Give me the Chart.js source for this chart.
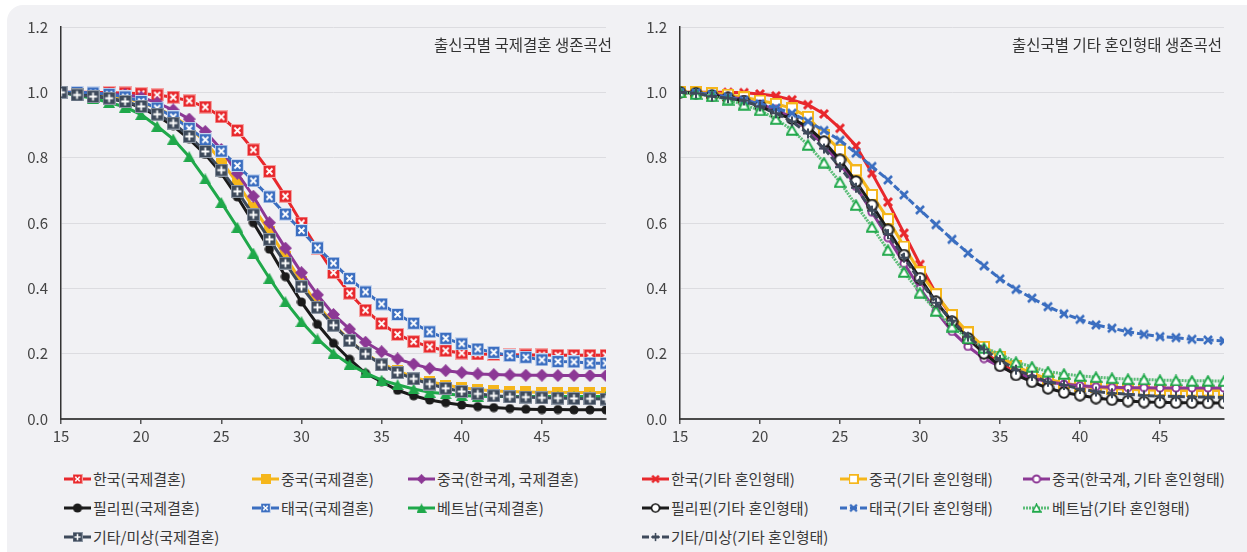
<!DOCTYPE html>
<html><head><meta charset="utf-8">
<script src="https://cdn.jsdelivr.net/npm/chart.js@4/dist/chart.umd.min.js"></script>
<style>
html,body{margin:0;padding:0;background:#fff;width:1247px;height:552px;overflow:hidden;font-family:"Noto Sans CJK KR","Noto Sans",sans-serif;}
#panel{position:absolute;left:7px;top:5px;width:1262px;height:570px;background:#f1f1f4;border-radius:16px;}
.cw{position:absolute;top:0;height:460px;}
#w1{left:0;width:620px;} #w2{left:620px;width:627px;}
.leg{position:absolute;display:flex;align-items:center;font-size:15px;color:#383838;white-space:nowrap;height:22px;line-height:22px;}
.leg canvas{margin-right:2px;}
</style></head>
<body>
<div id="panel"></div>
<div class="cw" id="w1"><canvas id="c1" width="620" height="460"></canvas></div>
<div class="cw" id="w2"><canvas id="c2" width="627" height="460"></canvas></div>
<div id="legend"></div>
<script>
// ---------------- data ----------------
const AGES = [15,16,17,18,19,20,21,22,23,24,25,26,27,28,29,30,31,32,33,34,35,36,37,38,39,40,41,42,43,44,45,46,47,48,49];
const X_TICKS = [15,20,25,30,35,40,45];
const Y_TICKS = [0.0,0.2,0.4,0.6,0.8,1.0,1.2];

const TITLE_LEFT = "출신국별 국제결혼 생존곡선";
const TITLE_RIGHT = "출신국별 기타 혼인형태 생존곡선";

const LABELS_LEFT = ["한국(국제결혼)","중국(국제결혼)","중국(한국계, 국제결혼)","필리핀(국제결혼)","태국(국제결혼)","베트남(국제결혼)","기타/미상(국제결혼)"];
const LABELS_RIGHT = ["한국(기타 혼인형태)","중국(기타 혼인형태)","중국(한국계, 기타 혼인형태)","필리핀(기타 혼인형태)","태국(기타 혼인형태)","베트남(기타 혼인형태)","기타/미상(기타 혼인형태)"];

// 국제결혼 (left)
const KR_L  = [1.000,1.000,1.000,0.999,0.998,0.996,0.992,0.985,0.974,0.955,0.925,0.883,0.824,0.758,0.682,0.600,0.522,0.448,0.385,0.333,0.292,0.259,0.237,0.221,0.209,0.202,0.199,0.198,0.197,0.196,0.196,0.195,0.195,0.195,0.195];
const CN_L  = [1.000,0.998,0.995,0.990,0.982,0.970,0.952,0.928,0.893,0.848,0.790,0.722,0.648,0.575,0.497,0.420,0.350,0.290,0.240,0.200,0.170,0.147,0.128,0.114,0.104,0.096,0.090,0.086,0.084,0.083,0.082,0.082,0.081,0.081,0.081];
const CNK_L = [1.000,0.999,0.998,0.995,0.993,0.985,0.968,0.946,0.918,0.880,0.825,0.752,0.682,0.601,0.523,0.448,0.380,0.320,0.275,0.235,0.206,0.184,0.168,0.155,0.148,0.142,0.138,0.136,0.135,0.134,0.134,0.133,0.133,0.133,0.133];
const PH_L  = [1.000,0.995,0.990,0.982,0.971,0.953,0.928,0.897,0.857,0.810,0.752,0.680,0.601,0.520,0.436,0.358,0.290,0.232,0.183,0.140,0.114,0.088,0.071,0.058,0.050,0.043,0.038,0.035,0.032,0.030,0.029,0.029,0.028,0.028,0.028];
const TH_L  = [1.000,1.000,0.998,0.994,0.986,0.972,0.952,0.925,0.890,0.855,0.820,0.776,0.729,0.680,0.627,0.577,0.524,0.477,0.430,0.389,0.352,0.320,0.293,0.267,0.247,0.230,0.214,0.204,0.194,0.189,0.181,0.176,0.175,0.171,0.171];
const VN_L  = [1.000,0.990,0.982,0.969,0.955,0.932,0.896,0.857,0.803,0.735,0.663,0.587,0.508,0.431,0.359,0.298,0.245,0.201,0.167,0.141,0.119,0.105,0.092,0.082,0.077,0.072,0.070,0.069,0.069,0.069,0.069,0.069,0.069,0.069,0.069];
const OT_L  = [1.000,0.992,0.987,0.982,0.972,0.957,0.933,0.906,0.865,0.819,0.762,0.697,0.625,0.550,0.477,0.405,0.342,0.287,0.240,0.199,0.166,0.142,0.123,0.107,0.094,0.084,0.077,0.071,0.068,0.067,0.065,0.064,0.063,0.062,0.061];

// 기타 혼인형태 (right)
const KR_R  = [1.000,1.000,1.000,1.000,0.999,0.995,0.989,0.977,0.962,0.934,0.890,0.836,0.752,0.664,0.569,0.473,0.384,0.313,0.255,0.205,0.170,0.145,0.128,0.115,0.106,0.100,0.097,0.095,0.093,0.092,0.092,0.091,0.091,0.091,0.091];
const CN_R  = [1.000,1.000,0.998,0.993,0.985,0.975,0.965,0.951,0.925,0.870,0.824,0.761,0.686,0.612,0.528,0.449,0.382,0.318,0.265,0.221,0.191,0.162,0.140,0.122,0.110,0.102,0.097,0.093,0.091,0.089,0.088,0.087,0.087,0.087,0.087];
const CNK_R = [1.000,0.998,0.993,0.987,0.978,0.963,0.948,0.922,0.885,0.838,0.781,0.712,0.633,0.555,0.476,0.400,0.330,0.268,0.222,0.185,0.160,0.140,0.125,0.114,0.107,0.102,0.099,0.097,0.096,0.096,0.095,0.095,0.095,0.095,0.095];
const PH_R  = [1.000,0.997,0.990,0.983,0.973,0.958,0.935,0.920,0.893,0.849,0.793,0.727,0.655,0.579,0.502,0.431,0.359,0.298,0.247,0.201,0.163,0.135,0.114,0.094,0.081,0.073,0.064,0.059,0.055,0.052,0.051,0.050,0.050,0.049,0.049];
const TH_R  = [1.000,0.998,0.993,0.985,0.975,0.965,0.952,0.936,0.911,0.883,0.853,0.814,0.773,0.732,0.686,0.640,0.595,0.550,0.508,0.469,0.429,0.397,0.370,0.344,0.322,0.305,0.288,0.278,0.267,0.259,0.252,0.249,0.244,0.242,0.239];
const VN_R  = [1.000,0.995,0.988,0.978,0.962,0.945,0.918,0.885,0.839,0.785,0.725,0.655,0.588,0.517,0.450,0.387,0.331,0.283,0.247,0.218,0.199,0.174,0.160,0.145,0.138,0.132,0.128,0.125,0.122,0.121,0.119,0.118,0.117,0.117,0.116];
const OT_R  = [1.000,0.997,0.988,0.982,0.975,0.957,0.936,0.911,0.874,0.828,0.771,0.708,0.638,0.566,0.494,0.423,0.356,0.301,0.252,0.213,0.181,0.151,0.132,0.114,0.104,0.092,0.084,0.079,0.076,0.072,0.070,0.069,0.068,0.067,0.066];

// ---------------- styles ----------------
const C = {red:'#e8282c', yel:'#f5b61b', pur:'#8c3895', blk:'#1b1b1b', blu:'#3b6ec0', grn:'#1fa84a', grnL:'#5cbd78', drk:'#3e4a5b'};
const FONT = '"Noto Sans CJK KR","Noto Sans",sans-serif';

function mk(w,h,fn){const c=document.createElement('canvas');c.width=w;c.height=h;const x=c.getContext('2d');fn(x,w,h);return c;}
function sqX(fill,border,cross){return mk(13,13,(x)=>{x.fillStyle=border;x.fillRect(0,0,13,13);x.fillStyle=fill;x.fillRect(1,1,11,11);x.strokeStyle='#fff';x.lineWidth=1.8;x.beginPath();
  if(cross==='x'){x.moveTo(3.5,3.5);x.lineTo(9.5,9.5);x.moveTo(9.5,3.5);x.lineTo(3.5,9.5);} else {x.moveTo(6.5,2.5);x.lineTo(6.5,10.5);x.moveTo(2.5,6.5);x.lineTo(10.5,6.5);}
  x.stroke();});}
const M_L = [
  sqX(C.red,'#f4a3a3','x'),
  mk(11,11,(x)=>{x.fillStyle=C.yel;x.fillRect(0,0,11,11);}),
  mk(13,13,(x)=>{x.fillStyle=C.pur;x.beginPath();x.moveTo(6.5,0);x.lineTo(13,6.5);x.lineTo(6.5,13);x.lineTo(0,6.5);x.closePath();x.fill();}),
  mk(10,10,(x)=>{x.fillStyle=C.blk;x.beginPath();x.arc(5,5,4.6,0,Math.PI*2);x.fill();}),
  sqX(C.blu,'#c9d7ef','x'),
  mk(12,11,(x)=>{x.fillStyle=C.grn;x.beginPath();x.moveTo(6,0);x.lineTo(12,11);x.lineTo(0,11);x.closePath();x.fill();}),
  sqX(C.drk,'#8d97a4','+')
];
const M_R = [
  mk(12,12,(x)=>{x.strokeStyle=C.red;x.lineWidth=3;x.lineCap='butt';x.beginPath();x.moveTo(2,2);x.lineTo(10,10);x.moveTo(10,2);x.lineTo(2,10);x.stroke();}),
  mk(12,12,(x)=>{x.fillStyle='#fff';x.fillRect(1,1,10,10);x.strokeStyle=C.yel;x.lineWidth=2;x.strokeRect(1,1,10,10);}),
  mk(10,10,(x)=>{x.fillStyle='#fff';x.strokeStyle=C.pur;x.lineWidth=2;x.beginPath();x.arc(5,5,3.6,0,Math.PI*2);x.fill();x.stroke();}),
  mk(13,13,(x)=>{x.fillStyle='#fff';x.strokeStyle=C.blk;x.lineWidth=2;x.beginPath();x.arc(6.5,6.5,5.2,0,Math.PI*2);x.fill();x.stroke();}),
  mk(12,12,(x)=>{x.strokeStyle=C.blu;x.lineWidth=2.6;x.beginPath();x.moveTo(2,2);x.lineTo(10,10);x.moveTo(10,2);x.lineTo(2,10);x.stroke();}),
  mk(13,12,(x)=>{x.fillStyle='#fff';x.strokeStyle=C.grn;x.lineWidth=2;x.beginPath();x.moveTo(6.5,1.5);x.lineTo(11.8,10.8);x.lineTo(1.2,10.8);x.closePath();x.fill();x.stroke();}),
  mk(12,12,(x)=>{x.strokeStyle=C.drk;x.lineWidth=2;x.beginPath();x.moveTo(6,1);x.lineTo(6,11);x.moveTo(1,6);x.lineTo(11,6);x.stroke();})
];
const COL_L = [C.red,C.yel,C.pur,C.blk,C.blu,C.grn,C.drk];
const COL_R = [C.red,C.yel,C.pur,C.blk,C.blu,C.grnL,C.drk];
const DASH_R = [[],[],[],[],[7,3],[2,1],[7,3]];

function pts(vals){return AGES.map((a,i)=>({x:a,y:vals[i]}));}

const innerTitle = {id:'innerTitle', afterDraw(chart,args,opts){const {ctx,chartArea}=chart;ctx.save();ctx.font='15.5px '+FONT;ctx.fillStyle='#333';ctx.textAlign='right';ctx.textBaseline='middle';ctx.fillText(opts.text,chartArea.right+opts.dx,chartArea.top+18);ctx.restore();}};

function makeChart(id, series, labels, colors, markers, dashes, title, yWidth, padRight, dx){
  const datasets = series.map((s,i)=>({label:labels[i], data:pts(s), borderColor:colors[i], backgroundColor:colors[i], borderWidth:3,
    borderDash:dashes[i], pointStyle:markers[i], pointRadius:6, pointHoverRadius:6, tension:0, order:series.length-i}));
  return new Chart(document.getElementById(id), {
    type:'line', data:{datasets}, plugins:[innerTitle],
    options:{responsive:false, animation:false, events:[],
      layout:{padding:{left:0,top:27,right:padRight,bottom:0}},
      plugins:{legend:{display:false}, tooltip:{enabled:false}, innerTitle:{text:title,dx:dx}},
      scales:{
        x:{type:'linear', min:AGES[0], max:AGES[AGES.length-1],
           afterBuildTicks(s){s.ticks=X_TICKS.map(v=>({value:v}));},
           afterFit(s){s.height=41;},
           grid:{drawOnChartArea:false, drawTicks:true, tickLength:5, color:'#555', lineWidth:1.5},
           border:{display:true, color:'#4a4a4a', width:2},
           ticks:{font:{family:FONT,size:15}, color:'#444', padding:3, maxRotation:0}},
        y:{type:'linear', min:0, max:1.2,
           afterBuildTicks(s){s.ticks=Y_TICKS.map(v=>({value:v}));},
           afterFit(s){s.width=yWidth;},
           grid:{color:'#dcdce0', lineWidth:1, drawTicks:false},
           border:{display:true, color:'#333', width:1.5},
           ticks:{font:{family:FONT,size:15}, color:'#444', padding:13, callback:v=>Number(v).toFixed(1)}}
      }}
  });
}

makeChart('c1',[KR_L,CN_L,CNK_L,PH_L,TH_L,VN_L,OT_L],LABELS_LEFT,COL_L,M_L,[[],[],[],[],[],[],[]],TITLE_LEFT,61,14,6);
makeChart('c2',[KR_R,CN_R,CNK_R,PH_R,TH_R,VN_R,OT_R],LABELS_RIGHT,COL_R,M_R,DASH_R,TITLE_RIGHT,60,23,-2);

// ---------------- HTML legend ----------------
function legendIcon(color,marker,dash){return mk(27,14,(x)=>{x.strokeStyle=color;x.lineWidth=3;x.setLineDash(dash);x.beginPath();x.moveTo(0,7);x.lineTo(27,7);x.stroke();x.setLineDash([]);
  const s=Math.min(1, 10/Math.max(marker.width,marker.height));const w=marker.width*s,h=marker.height*s;x.drawImage(marker,13.5-w/2,7-h/2,w,h);});}
function buildLegend(labels,colors,markers,dashes,colX){
  const rowsY=[479,508,537];
  labels.forEach((lab,i)=>{const d=document.createElement('div');d.className='leg';d.style.left=colX[i%3]+'px';d.style.top=(rowsY[Math.floor(i/3)]-11)+'px';
    const ic=legendIcon(colors[i],markers[i],dashes[i]);d.appendChild(ic);const sp=document.createElement('span');sp.textContent=lab;d.appendChild(sp);document.getElementById('legend').appendChild(d);});
}
buildLegend(LABELS_LEFT,COL_L,M_L,[[],[],[],[],[],[],[]],[64,252,408]);
buildLegend(LABELS_RIGHT,COL_R,M_R,DASH_R,[642,840,1023]);
</script>
</body></html>
